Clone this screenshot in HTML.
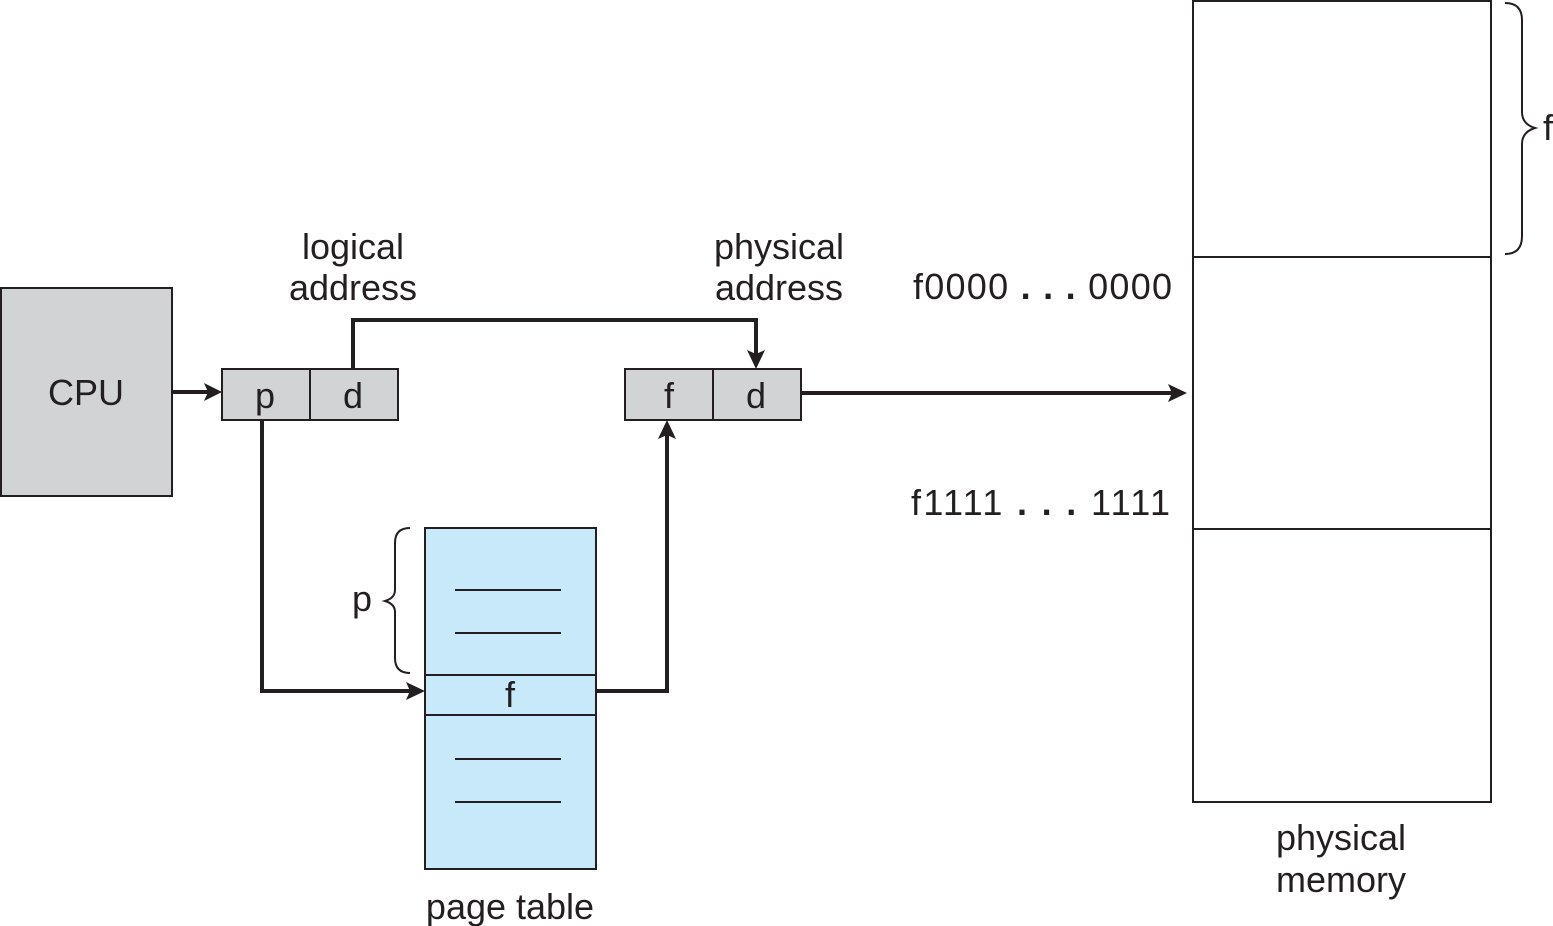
<!DOCTYPE html>
<html><head><meta charset="utf-8"><style>
html,body{margin:0;padding:0;background:#fff;}
svg{display:block;}
text{font-family:"Liberation Sans",sans-serif;font-size:36px;fill:#231f20;}
</style></head><body>
<svg width="1553" height="926" viewBox="0 0 1553 926" xmlns="http://www.w3.org/2000/svg">
<g stroke="#231f20" stroke-width="2" fill="#d1d3d4">
<rect x="1" y="288" width="171" height="208"/>
<rect x="222" y="369" width="176" height="51"/>
<line x1="310" y1="369" x2="310" y2="420"/>
<rect x="625" y="369" width="176" height="51"/>
<line x1="713" y1="369" x2="713" y2="420"/>
<rect x="425" y="528" width="171" height="341" fill="#c8e9f9"/>
<rect x="425" y="675" width="171" height="40" fill="#c8e9f9"/>
<line x1="455" y1="590" x2="561" y2="590"/>
<line x1="455" y1="633" x2="561" y2="633"/>
<line x1="455" y1="759" x2="561" y2="759"/>
<line x1="455" y1="802" x2="561" y2="802"/>
<rect x="1193" y="1" width="298" height="801" fill="#fff"/>
<line x1="1193" y1="257" x2="1491" y2="257"/>
<line x1="1193" y1="529" x2="1491" y2="529"/>
</g>
<g stroke="#231f20" stroke-width="4" fill="none">
<line x1="172" y1="392" x2="208" y2="392"/>
<polyline points="353,369 353,320 756,320 756,354"/>
<polyline points="262,420 262,691 410,691"/>
<polyline points="596,691 667,691 667,435"/>
<line x1="801" y1="393" x2="1172" y2="393"/>
</g>
<g fill="#231f20">
<polygon points="222,392 204,383 208,392 204,401"/>
<polygon points="756,369 747,350 756,354 765,350"/>
<polygon points="425,691 406,682 410,691 406,700"/>
<polygon points="667,420 658,439 667,435 676,439"/>
<polygon points="1187,393 1168,384 1172,393 1168,402"/>
</g>
<g stroke="#231f20" stroke-width="2" fill="none">
<path d="M1505,3 Q1522,3 1522,20 L1522,112 Q1522,124 1535,128 Q1522,132 1522,144 L1522,236 Q1522,254 1505,254"/>
<path d="M410,528 Q395,528 395,543 L395,590 Q395,598 385,601 Q395,604 395,612 L395,658 Q395,673 410,673"/>
</g>
<text x="86" y="405" text-anchor="middle">CPU</text>
<text x="265" y="408" text-anchor="middle">p</text>
<text x="353" y="408" text-anchor="middle">d</text>
<text x="669" y="408" text-anchor="middle">f</text>
<text x="756" y="408" text-anchor="middle">d</text>
<text x="510" y="707" text-anchor="middle">f</text>
<text x="362" y="611" text-anchor="middle">p</text>
<text x="1548" y="140" text-anchor="middle">f</text>
<text x="353" y="259" text-anchor="middle">logical</text>
<text x="353" y="300" text-anchor="middle">address</text>
<text x="779" y="259" text-anchor="middle">physical</text>
<text x="779" y="300" text-anchor="middle">address</text>
<text x="913" y="299" textLength="259" lengthAdjust="spacing">f0000 <tspan font-weight="bold">. . .</tspan> 0000</text>
<text x="911" y="515" textLength="259" lengthAdjust="spacing">f1111 <tspan font-weight="bold">. . .</tspan> 1111</text>
<text x="510" y="919" text-anchor="middle">page table</text>
<text x="1341" y="850" text-anchor="middle">physical</text>
<text x="1341" y="892" text-anchor="middle">memory</text>
</svg>
</body></html>
